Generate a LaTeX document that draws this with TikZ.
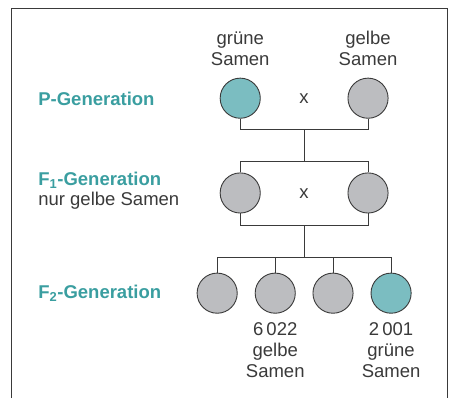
\documentclass[tikz,border=0pt]{standalone}
\usepackage{fontspec}
\setmainfont{Liberation Sans}
\usetikzlibrary{positioning}
\definecolor{seedgreen}{HTML}{7BBDC1}
\definecolor{seedgray}{HTML}{BCBDC0}
\definecolor{gentext}{HTML}{3A9EA0}
\definecolor{inkgray}{HTML}{3A3A3A}
\tikzset{
    seedg/.style = {circle, draw=inkgray, line width=0.9pt, minimum size=1.41cm, inner sep=0pt, fill=seedgreen},
    seedy/.style = {circle, draw=inkgray, line width=0.9pt, minimum size=1.41cm, inner sep=0pt, fill=seedgray},
    gen/.style = {anchor=west, inner sep=0pt, text=gentext, font=\fontsize{18.5}{21}\selectfont\bfseries},
    txt/.style = {align=center, inner sep=0pt, text=inkgray, font=\fontsize{18.5}{21}\selectfont},
    tree/.style = {draw=inkgray, line width=0.9pt},
}

\begin{document}
\begin{tikzpicture}
\useasboundingbox (0,0) rectangle (15.81,13.99);
\draw[line width=0.8pt, inkgray] (0.40,0) -- (0.40,13.69) -- (15.73,13.69) -- (15.73,0);
%
\node[gen] at (1.34,10.51) (pgen) {P-Generation};
\node[gen] at (1.34,7.64) (fgen) {F\textsubscript{1}-Generation};
\node[txt, anchor=west] at (1.34,6.93) (fsub) {nur gelbe Samen};
\node[gen] at (1.34,3.69) (ffgen) {F\textsubscript{2}-Generation};
%
\node[seedg] at (8.44,10.54) (pa) {};
\node[seedy] at (12.93,10.54) (pb) {};
\node[txt] at (10.68,10.51) (px) {x};
\node[txt, above=0.42cm of pa] (pal) {grüne\\Samen};
\node[txt, above=0.42cm of pb] (pbl) {gelbe\\Samen};
%
\node[seedy] at (8.44,7.21) (fa) {};
\node[seedy] at (12.93,7.21) (fb) {};
\node[txt] at (10.68,7.19) (fx) {x};
%
\node[seedy] at (7.63,3.69) (ka) {};
\node[seedy] at (9.67,3.69) (kb) {};
\node[seedy] at (11.70,3.69) (kc) {};
\node[seedg] at (13.74,3.69) (kd) {};
\node[txt, below=0.30cm of kb] (kbl) {6\,022\\gelbe\\Samen};
\node[txt, below=0.30cm of kd] (kdl) {2\,001\\grüne\\Samen};
%
\coordinate (pj) at (10.68,9.45);
\coordinate (fj) at (10.68,8.33);
\coordinate (fk) at (10.68,6.08);
\coordinate (kj) at (10.68,4.96);
\draw[tree] (pa.south) |- (pj) -| (pb.south);
\draw[tree] (pj) -- (fj);
\draw[tree] (fa.north) |- (fj) -| (fb.north);
\draw[tree] (fa.south) |- (fk) -| (fb.south);
\draw[tree] (fk) -- (kj);
\draw[tree] (ka.north) |- (kj) -| (kd.north);
\draw[tree] (kb.north) -- (kb.north |- kj);
\draw[tree] (kc.north) -- (kc.north |- kj);

\end{tikzpicture}
\end{document}
